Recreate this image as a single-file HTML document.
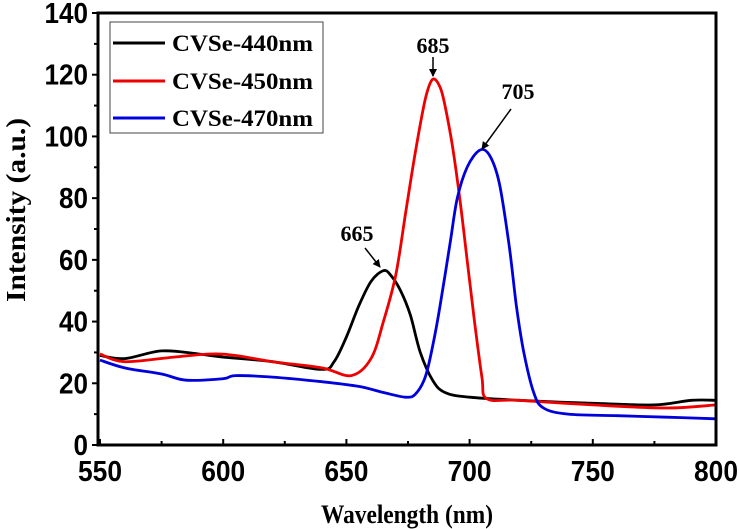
<!DOCTYPE html>
<html><head><meta charset="utf-8"><style>
body{margin:0;background:#fff}
svg{display:block}
.tk{font-family:"Liberation Sans",sans-serif;font-weight:bold;font-size:29px}
.sr{font-family:"Liberation Serif",serif;font-weight:bold}
</style></head><body>
<svg id="c" width="739" height="529">
<defs><marker id="ah" markerWidth="8" markerHeight="8" refX="7" refY="4" orient="auto" markerUnits="userSpaceOnUse"><path d="M0,0 L8,4 L0,8 z" fill="#000"/></marker></defs>
<g id="series"></g>
<g id="axes"></g>
<rect x="110" y="22" width="213" height="111" fill="#fff" stroke="#444" stroke-width="1"/>
<g><line x1="113" y1="43" x2="165" y2="43" stroke="#000" stroke-width="3"/><text x="172" y="51" class="sr" font-size="23" textLength="141" lengthAdjust="spacingAndGlyphs">CVSe-440nm</text></g>
<g><line x1="113" y1="81" x2="165" y2="81" stroke="#e00" stroke-width="3"/><text x="172" y="89" class="sr" font-size="23" textLength="141" lengthAdjust="spacingAndGlyphs">CVSe-450nm</text></g>
<g><line x1="113" y1="118" x2="165" y2="118" stroke="#00d" stroke-width="3"/><text x="172" y="126" class="sr" font-size="23" textLength="141" lengthAdjust="spacingAndGlyphs">CVSe-470nm</text></g>
<text x="433" y="53" text-anchor="middle" class="sr" font-size="22">685</text>
<line x1="433" y1="57" x2="433" y2="76" stroke="#000" stroke-width="1.5" marker-end="url(#ah)"/>
<text x="518" y="99" text-anchor="middle" class="sr" font-size="22">705</text>
<line x1="511" y1="109" x2="482" y2="149" stroke="#000" stroke-width="1.5" marker-end="url(#ah)"/>
<text x="357" y="241" text-anchor="middle" class="sr" font-size="22">665</text>
<line x1="365" y1="248" x2="380" y2="267" stroke="#000" stroke-width="1.5" marker-end="url(#ah)"/>
<text x="407" y="523" text-anchor="middle" class="sr" font-size="26" textLength="172" lengthAdjust="spacingAndGlyphs">Wavelength (nm)</text>
<text transform="translate(25,210) rotate(-90)" text-anchor="middle" class="sr" font-size="27" textLength="184" lengthAdjust="spacingAndGlyphs">Intensity (a.u.)</text>
</svg>
<script>
const xTicks=[550,600,650,700,750,800];
const yTicks=[0,20,40,60,80,100,120,140];
const blackX=[550,560,575,590,600,620,640,645,650,655,660,665,668,672,676,680,685,690,700,720,750,775,790,800];
const blackY=[29,28,30.5,29.5,28.5,27,24.5,27,35,45,53,56.5,55,50,42,30,21,17,15.5,14.5,13.5,13,14.5,14.5];
const redX=[550,560,580,595,605,620,640,652,660,665,670,674,678,682,685,688,690,693,696,699,702,705,707,720,750,780,800];
const redY=[29.5,27,28.5,29.5,29,27,25,22.5,28,40,55,75,95,112,118.5,116,110,97,80,60,40,22,15,14.5,13,12,13];
const blueX=[550,560,575,585,600,605,620,640,655,665,674,678,682,685,688,692,695,699,704,708,712,716,719,722,726,730,740,760,780,800];
const blueY=[27.5,25,23,21,21.5,22.5,22,20.5,19,17,15.5,16.5,22,32,45,65,80,90,95.5,94,85,65,45,30,17,12,10,9.5,9,8.5];
const X0=100,X1=716,Y0=445,Y1=13;
const sx=v=>X0+(v-550)/(800-550)*(X1-X0);
const sy=v=>Y0-(v/140)*(Y0-Y1);
const NS="http://www.w3.org/2000/svg";
const ser=document.getElementById('series'),ax=document.getElementById('axes');
function smooth(pts){
  let d='M'+pts[0][0].toFixed(1)+','+pts[0][1].toFixed(1);
  for(let i=0;i<pts.length-1;i++){
    const p0=pts[Math.max(i-1,0)],p1=pts[i],p2=pts[i+1],p3=pts[Math.min(i+2,pts.length-1)];
    const c1=[p1[0]+(p2[0]-p0[0])/6,p1[1]+(p2[1]-p0[1])/6];
    const c2=[p2[0]-(p3[0]-p1[0])/6,p2[1]-(p3[1]-p1[1])/6];
    d+=' C'+c1.map(n=>n.toFixed(1)).join(',')+' '+c2.map(n=>n.toFixed(1)).join(',')+' '+p2.map(n=>n.toFixed(1)).join(',');
  }
  return d;
}
function line(xs,ys,col,name){
  const p=document.createElementNS(NS,'path');
  p.setAttribute('d',smooth(xs.map((x,i)=>[sx(x),sy(ys[i])])));
  p.setAttribute('fill','none');p.setAttribute('stroke',col);p.setAttribute('stroke-width','2.8');p.setAttribute('stroke-linejoin','round');
  
  
  ser.appendChild(p);
}
line(blackX,blackY,'#000','series-440nm');
line(redX,redY,'#e00','series-450nm');
line(blueX,blueY,'#00d','series-470nm');
const fr=document.createElementNS(NS,'rect');
fr.setAttribute('x',98);fr.setAttribute('y',Y1);fr.setAttribute('width',X1-98);fr.setAttribute('height',Y0-Y1);
fr.setAttribute('fill','none');fr.setAttribute('stroke','#000');fr.setAttribute('stroke-width','3');


ax.appendChild(fr);
function mk(tag,attrs){const e=document.createElementNS(NS,tag);for(const k in attrs)e.setAttribute(k,attrs[k]);ax.appendChild(e);return e;}
xTicks.forEach((v,i)=>{
  const t=mk('line',{x1:sx(v),y1:Y0,x2:sx(v),y2:Y0-6,stroke:'#000','stroke-width':2});
  
  
  if(i<xTicks.length-1){const m=mk('line',{x1:sx(v+25),y1:Y0,x2:sx(v+25),y2:Y0-4,stroke:'#000','stroke-width':2});
  
  }
  const l=mk('text',{x:sx(v),y:Y0+36,'text-anchor':'middle',class:'tk',textLength:44,lengthAdjust:'spacingAndGlyphs'});l.textContent=v;
  
  
});
yTicks.forEach((v,i)=>{
  const t=mk('line',{x1:98,y1:sy(v),x2:92,y2:sy(v),stroke:'#000','stroke-width':2});
  
  
  if(i<yTicks.length-1){const m=mk('line',{x1:98,y1:sy(v+10),x2:94,y2:sy(v+10),stroke:'#000','stroke-width':2});
  
  }
  const w=String(v).length*14.5;
  const l=mk('text',{x:88,y:sy(v)+10,'text-anchor':'end',class:'tk',textLength:w,lengthAdjust:'spacingAndGlyphs'});l.textContent=v;
  
  
});
</script>
</body></html>
